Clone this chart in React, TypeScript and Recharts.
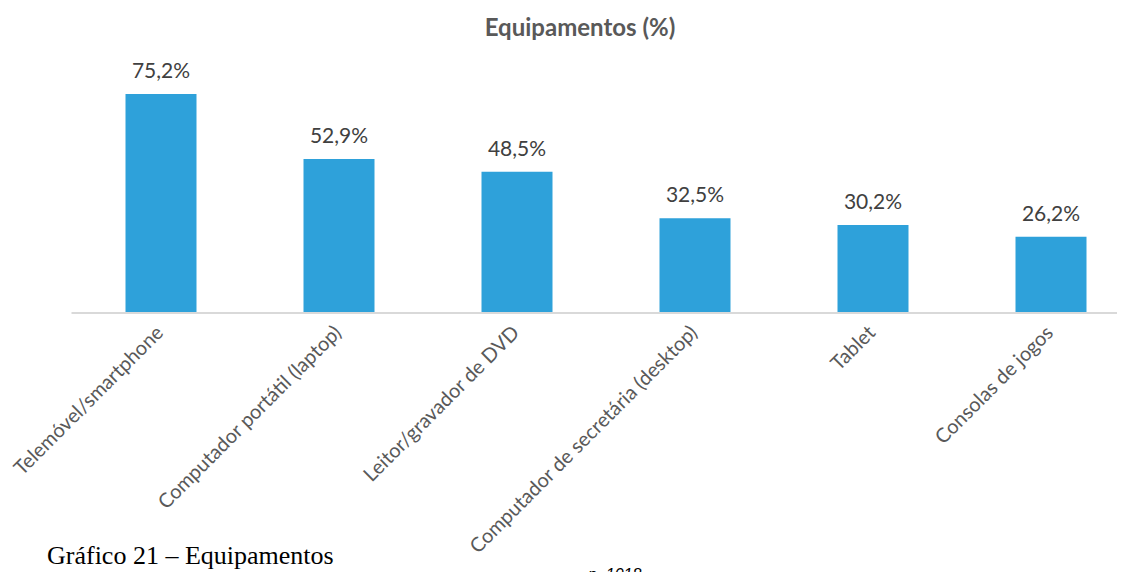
import React from 'react'
import { BarChart, Bar, XAxis, YAxis, LabelList } from 'recharts'

const categories = [
  'Telemóvel/smartphone',
  'Computador portátil (laptop)',
  'Leitor/gravador de DVD',
  'Computador de secretária (desktop)',
  'Tablet',
  'Consolas de jogos',
]
const values = [75.2, 52.9, 48.5, 32.5, 30.2, 26.2]

const data = categories.map((name, i) => ({ name, value: values[i] }))

const FONT = 'Lato, "Open Sans", sans-serif'

const AngledTick = (props: any) => {
  const { x, y, payload } = props
  const tx = x + 4
  const ty = y + 21
  return (
    <text
      x={tx}
      y={ty}
      textAnchor="end"
      transform={`rotate(-45, ${tx}, ${ty})`}
      fill="#595959"
      fontSize={20}
      fontFamily={FONT}
    >
      {payload.value}
    </text>
  )
}

const App: React.FC = () => {
  return (
    <div style={{ position: 'relative', width: 1117, height: 564, overflow: 'hidden', background: '#fff' }}>
      <BarChart
        width={1140}
        height={564}
        data={data}
        margin={{ top: 72, right: 8.5, left: 63.5, bottom: 0 }}
      >
        <YAxis hide domain={[0, 80]} />
        <XAxis
          dataKey="name"
          height={259}
          interval={0}
          tickLine={false}
          tickSize={0}
          tickMargin={0}
          axisLine={{ stroke: '#d9d9d9', strokeWidth: 2 }}
          tick={<AngledTick />}
        />
        <Bar dataKey="value" fill="#2ea1da" barSize={71} isAnimationActive={false}>
          <LabelList
            dataKey="value"
            position="top"
            offset={16}
            formatter={(v: any) => `${String(v).replace('.', ',')}%`}
            style={{ fill: '#404040', fontSize: 21, fontFamily: FONT }}
          />
        </Bar>
      </BarChart>
      <svg
        width={1117}
        height={564}
        style={{ position: 'absolute', left: 0, top: 0, pointerEvents: 'none' }}
      >
        <text x={572} y={28} textAnchor="middle" fill="#595959" fontSize={24} fontWeight="bold" fontFamily={FONT}>
          Equipamentos (%)
        </text>
        <text x={39} y={556} fill="#000" fontSize={26} fontFamily='"Liberation Serif", "Times New Roman", serif'>
          Gráfico 21 – Equipamentos
        </text>
        <text x={580} y={571.5} fill="#000" fontSize={16} fontStyle="italic" fontFamily='"Liberation Sans", Arial, sans-serif'>
          p. 1018
        </text>
      </svg>
    </div>
  )
}

export default App
